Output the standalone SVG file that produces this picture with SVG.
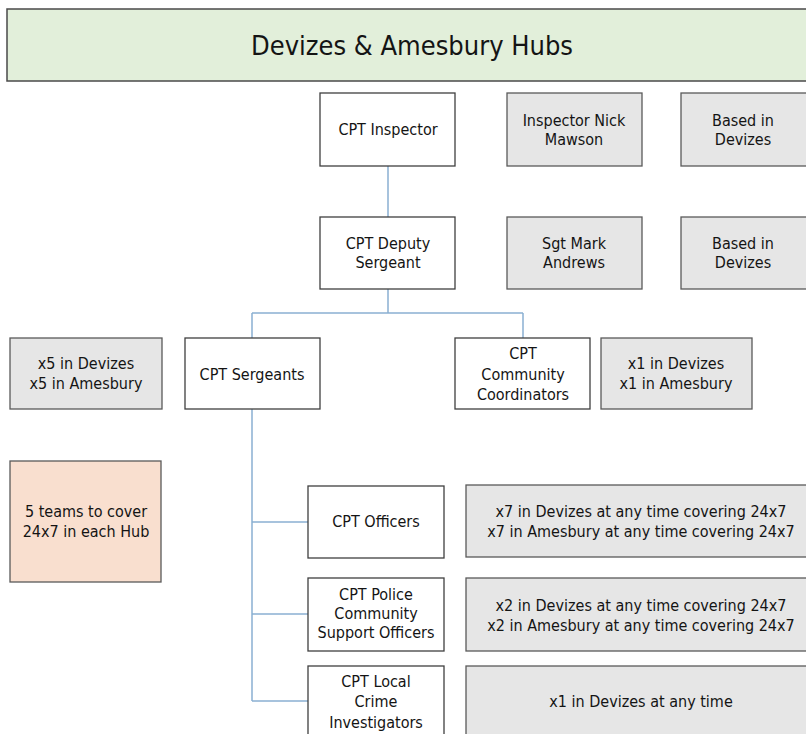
<svg xmlns="http://www.w3.org/2000/svg" width="806" height="734" viewBox="0 0 806 734">
<style>
text{font-family:"DejaVu Sans Condensed","DejaVu Sans","Liberation Sans",sans-serif;font-size:16px;fill:#141414;text-anchor:middle}
.w{fill:#ffffff;stroke:#3f3f3f;stroke-width:1.3}
.g{fill:#e6e6e6;stroke:#5a5a5a;stroke-width:1.3}
.p{fill:#f9dfcf;stroke:#5a5a5a;stroke-width:1.3}
.h{fill:#e2efda;stroke:#4a4a4a;stroke-width:1.5}
.c{fill:none;stroke:#8ab0d2;stroke-width:1.5}
</style>
<rect width="806" height="734" fill="#ffffff"/>
<g id="header"><rect class="h" x="7" y="9" width="806" height="72"/><text x="412" y="55" style="font-size:27px">Devizes &amp; Amesbury Hubs</text></g>
<g id="connectors">
<path class="c" d="M388 166V217M388 289V313M252 313H523M252 313V338M523 313V338M252 408V701M252 522H308M252 614H308M252 701H308"/>
</g>
<g id="cpt-inspector"><rect class="w" x="320" y="93" width="135" height="73"/><text x="388" y="135">CPT Inspector</text></g>
<g id="inspector-name"><rect class="g" x="507" y="93" width="135" height="73"/><text x="574" y="126">Inspector Nick</text><text x="574" y="145">Mawson</text></g>
<g id="based-1"><rect class="g" x="681" y="93" width="130" height="73"/><text x="743" y="126">Based in</text><text x="743" y="145">Devizes</text></g>
<g id="cpt-deputy"><rect class="w" x="320" y="217" width="135" height="72"/><text x="388" y="249">CPT Deputy</text><text x="388" y="268">Sergeant</text></g>
<g id="sgt-name"><rect class="g" x="507" y="217" width="135" height="72"/><text x="574" y="249">Sgt Mark</text><text x="574" y="268">Andrews</text></g>
<g id="based-2"><rect class="g" x="681" y="217" width="130" height="72"/><text x="743" y="249">Based in</text><text x="743" y="268">Devizes</text></g>
<g id="x5"><rect class="g" x="10" y="338" width="152" height="71"/><text x="86" y="369">x5 in Devizes</text><text x="86" y="389">x5 in Amesbury</text></g>
<g id="cpt-sergeants"><rect class="w" x="185" y="338" width="135" height="71"/><text x="252" y="380">CPT Sergeants</text></g>
<g id="cpt-coordinators"><rect class="w" x="455" y="338" width="135" height="71"/><text x="523" y="359">CPT</text><text x="523" y="380">Community</text><text x="523" y="400">Coordinators</text></g>
<g id="x1"><rect class="g" x="601" y="338" width="151" height="71"/><text x="676" y="369">x1 in Devizes</text><text x="676" y="389">x1 in Amesbury</text></g>
<g id="teams"><rect class="p" x="10" y="461" width="151" height="121"/><text x="86" y="517">5 teams to cover</text><text x="86" y="537">24x7 in each Hub</text></g>
<g id="cpt-officers"><rect class="w" x="308" y="486" width="136" height="72"/><text x="376" y="527">CPT Officers</text></g>
<g id="officers-count"><rect class="g" x="466" y="485" width="345" height="72"/><text x="641" y="517">x7 in Devizes at any time covering 24x7</text><text x="641" y="537">x7 in Amesbury at any time covering 24x7</text></g>
<g id="cpt-pcso"><rect class="w" x="308" y="578" width="136" height="73"/><text x="376" y="600">CPT Police</text><text x="376" y="619">Community</text><text x="376" y="638">Support Officers</text></g>
<g id="pcso-count"><rect class="g" x="466" y="578" width="345" height="73"/><text x="641" y="611">x2 in Devizes at any time covering 24x7</text><text x="641" y="631">x2 in Amesbury at any time covering 24x7</text></g>
<g id="cpt-lci"><rect class="w" x="308" y="666" width="136" height="80"/><text x="376" y="687">CPT Local</text><text x="376" y="707">Crime</text><text x="376" y="728">Investigators</text></g>
<g id="lci-count"><rect class="g" x="466" y="666" width="345" height="80"/><text x="641" y="707">x1 in Devizes at any time</text></g>
</svg>
